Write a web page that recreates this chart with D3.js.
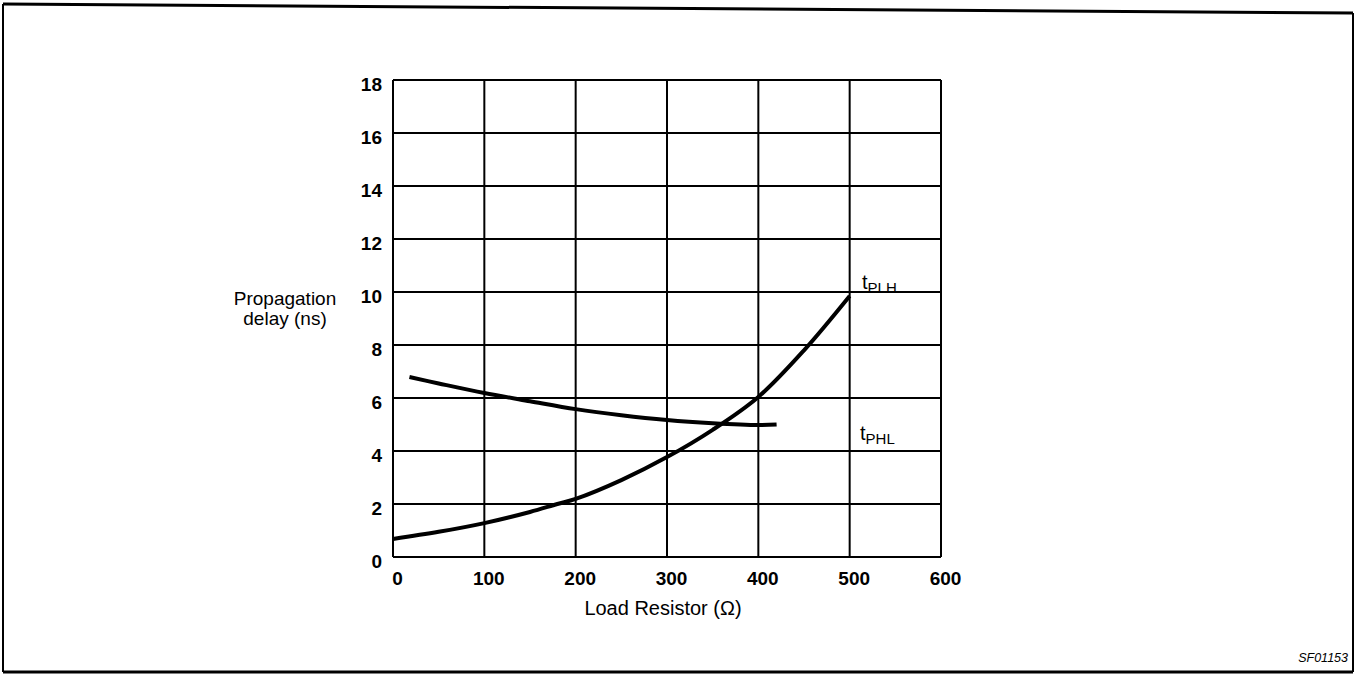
<!DOCTYPE html>
<html><head><meta charset="utf-8">
<script src="https://d3js.org/d3.v7.min.js"></script>
<style>body{margin:0;background:#fff}svg{display:block}</style>
</head><body>
<svg id="c" width="1356" height="679"></svg>
<script>
const xTicks = [0,100,200,300,400,500,600];
const yTicks = [0,2,4,6,8,10,12,14,16,18];
const tPLH_x = [0,50,100,150,180,200,250,300,350,400,450,500];
const tPLH_y = [0.68,0.95,1.28,1.7,2.0,2.19,2.9,3.77,4.8,6.04,7.8,9.85];
const tPHL_x = [18,50,100,150,200,250,300,350,400,420];
const tPHL_y = [6.79,6.55,6.19,5.88,5.58,5.35,5.17,5.05,4.98,5.0];

const svg = d3.select("#c");
const x = d3.scaleLinear().domain([0,600]).range([393,941]);
const y = d3.scaleLinear().domain([0,18]).range([557,80]);
const ff = "Liberation Sans, Arial, sans-serif";

svg.append("path").attr("d","M3,4 L1353,13").attr("stroke","#000").attr("stroke-width",3).attr("fill","none");
svg.append("path").attr("d","M3,4 L3,672 M1353,13 L1353,672").attr("stroke","#000").attr("stroke-width",2).attr("fill","none");
svg.append("line").attr("x1",3).attr("x2",1353).attr("y1",672).attr("y2",672).attr("stroke","#000").attr("stroke-width",3);

const g = svg.append("g");
g.selectAll(".vg").data(xTicks).join("line")
  .attr("x1",d=>x(d)).attr("x2",d=>x(d)).attr("y1",y(0)).attr("y2",y(18))
  .attr("stroke","#000").attr("stroke-width",2);
g.selectAll(".hg").data(yTicks).join("line")
  .attr("x1",x(0)).attr("x2",x(600)).attr("y1",d=>y(d)).attr("y2",d=>y(d))
  .attr("stroke","#000").attr("stroke-width",2);

const xa = d3.axisBottom(x).tickValues(xTicks).tickSize(0).tickPadding(14);
const ya = d3.axisLeft(y).tickValues(yTicks).tickSize(0).tickPadding(11);
const gx = svg.append("g").attr("transform",`translate(4,${y(0)+1})`).call(xa);
const gy = svg.append("g").attr("transform",`translate(${x(0)},4)`).call(ya);
[gx,gy].forEach(a=>{
  a.select(".domain").remove();
  a.selectAll("text").attr("font-family",ff)
   .attr("font-size",19).attr("font-weight","bold").attr("fill","#000");
});

const line = d3.line().x(d=>x(d[0])).y(d=>y(d[1])).curve(d3.curveCatmullRom.alpha(0.5));
svg.append("path").datum(tPLH_x.map((v,i)=>[v,tPLH_y[i]]))
  .attr("d",line).attr("fill","none").attr("stroke","#000").attr("stroke-width",4);
svg.append("path").datum(tPHL_x.map((v,i)=>[v,tPHL_y[i]]))
  .attr("d",line).attr("fill","none").attr("stroke","#000").attr("stroke-width",4);

function sub(xp, yp, main, s){
  const t = svg.append("text").attr("x",xp).attr("y",yp).attr("font-family",ff).attr("font-size",20).attr("fill","#000");
  t.append("tspan").text(main);
  t.append("tspan").attr("dy",4).attr("font-size",15).text(s);
}
sub(862, 289, "t", "PLH");
sub(860, 440, "t", "PHL");

svg.append("text").attr("x",285).attr("y",305).attr("text-anchor","middle")
  .attr("font-family",ff).attr("font-size",19).attr("fill","#000").text("Propagation");
svg.append("text").attr("x",285).attr("y",325).attr("text-anchor","middle")
  .attr("font-family",ff).attr("font-size",19).attr("fill","#000").text("delay (ns)");
svg.append("text").attr("x",663).attr("y",615).attr("text-anchor","middle")
  .attr("font-family",ff).attr("font-size",20).attr("fill","#000").text("Load Resistor (Ω)");
svg.append("text").attr("x",1348).attr("y",662).attr("text-anchor","end")
  .attr("font-family",ff).attr("font-size",12.5).attr("font-style","italic").attr("fill","#000").text("SF01153");
</script>
</body></html>
